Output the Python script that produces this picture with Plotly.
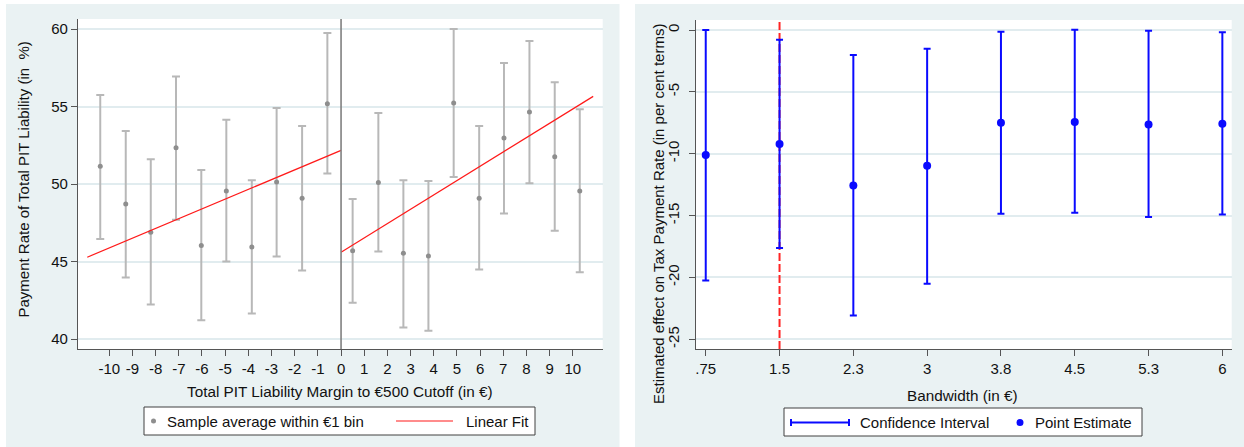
import plotly.graph_objects as go

W, H = 1244, 447

# ---------------- Left panel data ----------------
bin_x_left = [-10.39, -9.29, -8.21, -7.12, -6.03, -4.95, -3.85, -2.78, -1.68, -0.59]
mean_left = [51.15, 48.72, 46.90, 52.35, 46.04, 49.56, 45.95, 50.14, 49.09, 55.19]
hi_left = [55.75, 53.43, 51.60, 56.95, 50.91, 54.16, 50.25, 54.91, 53.75, 59.74]
lo_left = [46.47, 43.98, 42.24, 47.71, 41.23, 45.01, 41.66, 45.33, 44.43, 50.68]

bin_x_right = [0.50, 1.61, 2.69, 3.77, 4.86, 5.96, 7.03, 8.13, 9.22, 10.30]
mean_right = [45.70, 50.10, 45.55, 45.37, 55.23, 49.09, 52.98, 54.65, 51.77, 49.56]
hi_right = [49.05, 54.59, 50.25, 50.21, 60.00, 53.75, 57.81, 59.23, 56.57, 54.83]
lo_right = [42.35, 45.65, 40.75, 40.54, 50.46, 44.49, 48.10, 50.06, 47.00, 44.32]

fit_x_left = [-10.95, 0.0]
fit_y_left = [45.29, 52.18]
fit_x_right = [0.0, 10.88]
fit_y_right = [45.61, 55.66]

cutoff_left = 0.0
x_ticks_left = list(range(-10, 11))
x_tick_labels_left = [str(v) for v in x_ticks_left]
y_ticks_left = [40, 45, 50, 55, 60]
y_tick_labels_left = ["40", "45", "50", "55", "60"]

# ---------------- Right panel data ----------------
bandwidth = [0.75, 1.5, 2.25, 3.0, 3.75, 4.5, 5.25, 6.0]
bandwidth_labels = [".75", "1.5", "2.3", "3", "3.8", "4.5", "5.3", "6"]
estimate = [-10.11, -9.22, -12.56, -10.97, -7.49, -7.44, -7.63, -7.57]
ci_hi = [0.00, -0.78, -2.02, -1.51, -0.13, 0.03, -0.05, -0.19]
ci_lo = [-20.24, -17.62, -23.07, -20.51, -14.85, -14.77, -15.12, -14.90]
optimal_bw = 1.5
y_ticks_right = [0, -5, -10, -15, -20, -25]
y_tick_labels_right = ["0", "-5", "-10", "-15", "-20", "-25"]
y_range_right = [-25.78, 0.81]

# ---------------- styling ----------------
FONT = "Arial, 'Liberation Sans', sans-serif"
BG = "#EAF2F3"
GRID = "#E1ECEF"
AXIS = "#555555"
GRAY_BAR = "#B8B8B8"
GRAY_DOT = "#8E8E8E"
BLUE = "#0A0AFF"
RED = "#FF1A1A"


def px(x):
    return x / W


def py(y):
    return 1 - y / H


fig = go.Figure()

# Left panel traces
for xs, m, hi, lo in [(bin_x_left, mean_left, hi_left, lo_left),
                      (bin_x_right, mean_right, hi_right, lo_right)]:
    fig.add_trace(go.Scatter(
        x=xs, y=m, mode="markers", xaxis="x", yaxis="y",
        marker=dict(color=GRAY_DOT, size=5),
        error_y=dict(type="data", symmetric=False,
                     array=[h - v for h, v in zip(hi, m)],
                     arrayminus=[v - l for v, l in zip(m, lo)],
                     color=GRAY_BAR, thickness=2, width=4),
        showlegend=False, hoverinfo="skip"))

for fx, fy in [(fit_x_left, fit_y_left), (fit_x_right, fit_y_right)]:
    fig.add_trace(go.Scatter(x=fx, y=fy, mode="lines", xaxis="x", yaxis="y",
                             line=dict(color=RED, width=1.2),
                             showlegend=False, hoverinfo="skip"))

# Right panel: optimal bandwidth reference line (drawn first, under the estimates)
fig.add_trace(go.Scatter(
    x=[optimal_bw, optimal_bw], y=y_range_right, mode="lines", xaxis="x2", yaxis="y2",
    line=dict(color="#FF2424", width=2, dash="8px,3px"),
    showlegend=False, hoverinfo="skip", cliponaxis=True))

fig.add_trace(go.Scatter(
    x=bandwidth, y=estimate, mode="markers", xaxis="x2", yaxis="y2",
    marker=dict(color=BLUE, size=8),
    error_y=dict(type="data", symmetric=False,
                 array=[h - v for h, v in zip(ci_hi, estimate)],
                 arrayminus=[v - l for v, l in zip(estimate, ci_lo)],
                 color=BLUE, thickness=2, width=3.5),
    showlegend=False, hoverinfo="skip"))

shapes = [
    # panel backgrounds
    dict(type="rect", xref="paper", yref="paper", x0=px(6), x1=px(619.5), y0=py(447), y1=py(4),
         fillcolor=BG, line=dict(width=0), layer="below"),
    dict(type="rect", xref="paper", yref="paper", x0=px(635), x1=px(1244), y0=py(447), y1=py(4),
         fillcolor=BG, line=dict(width=0), layer="below"),
    # plot area backgrounds
    dict(type="rect", xref="x domain", yref="y domain", x0=0, x1=1, y0=0, y1=1,
         fillcolor="white", line=dict(width=0), layer="below"),
    dict(type="rect", xref="x2 domain", yref="y2 domain", x0=0, x1=1, y0=0, y1=1,
         fillcolor="white", line=dict(width=0), layer="below"),
    # cutoff line left
    dict(type="line", xref="x", yref="y domain", x0=cutoff_left, x1=cutoff_left, y0=0, y1=1,
         line=dict(color="#808080", width=1.6), layer="above"),
]

annotations = []


def txt(x, y, text, size=15, angle=0, xanchor="center", yanchor="middle"):
    annotations.append(dict(xref="paper", yref="paper", x=px(x), y=py(y), text=text,
                            showarrow=False, textangle=angle, xanchor=xanchor, yanchor=yanchor,
                            font=dict(family=FONT, size=size, color="#111111")))


# axis titles
txt(22.5, 180, "Payment Rate of Total PIT Liability (in  %)", angle=-90)
txt(340, 391, "Total PIT Liability Margin to €500 Cutoff (in €)", size=15.3)
txt(658, 214, "Estimated effect on Tax Payment Rate (in per cent terms)", angle=-90)
txt(962, 395, "Bandwidth (in €)", size=15.3)

# Left legend
shapes.append(dict(type="rect", xref="paper", yref="paper", x0=px(144), x1=px(535), y0=py(435), y1=py(407),
                   fillcolor="white", line=dict(color="#404040", width=1)))
shapes.append(dict(type="circle", xref="paper", yref="paper", x0=px(151), x1=px(156), y0=py(423.5), y1=py(418.5),
                   fillcolor=GRAY_DOT, line=dict(width=0)))
txt(165, 421.5, "Sample average within €1 bin", xanchor="left")
shapes.append(dict(type="line", xref="paper", yref="paper", x0=px(396), x1=px(453), y0=py(421), y1=py(421),
                   line=dict(color=RED, width=1.2)))
txt(464, 421.5, "Linear Fit", xanchor="left")

# Right legend
shapes.append(dict(type="rect", xref="paper", yref="paper", x0=px(784), x1=px(1142), y0=py(436), y1=py(408),
                   fillcolor="white", line=dict(color="#404040", width=1)))
shapes.append(dict(type="line", xref="paper", yref="paper", x0=px(791), x1=px(849), y0=py(422.5), y1=py(422.5),
                   line=dict(color=BLUE, width=2)))
for cx in (791, 849):
    shapes.append(dict(type="line", xref="paper", yref="paper", x0=px(cx), x1=px(cx), y0=py(419), y1=py(426),
                       line=dict(color=BLUE, width=2)))
txt(858, 422.5, "Confidence Interval", xanchor="left")
shapes.append(dict(type="circle", xref="paper", yref="paper", x0=px(1016.5), x1=px(1023.5), y0=py(426), y1=py(419),
                   fillcolor=BLUE, line=dict(width=0)))
txt(1033, 422.5, "Point Estimate", xanchor="left")

axis_common = dict(showline=True, linecolor=AXIS, linewidth=1.2, ticks="outside", ticklen=6,
                   tickcolor=AXIS, tickwidth=1.2, zeroline=False,
                   tickfont=dict(family=FONT, size=15, color="#111111"))

fig.update_layout(
    width=W, height=H, margin=dict(l=0, r=0, t=0, b=0),
    paper_bgcolor="white", plot_bgcolor="rgba(0,0,0,0)",
    showlegend=False,
    xaxis=dict(domain=[px(78), px(602.7)], anchor="y", range=[-11.35, 11.29],
               tickmode="array", tickvals=x_ticks_left, ticktext=x_tick_labels_left,
               tickangle=0, showgrid=False, **axis_common),
    yaxis=dict(domain=[py(349), py(19)], anchor="x", range=[39.37, 60.65],
               tickmode="array", tickvals=y_ticks_left, ticktext=y_tick_labels_left,
               showgrid=True, gridcolor=GRID, gridwidth=1.5, **axis_common),
    xaxis2=dict(domain=[px(695.7), px(1231.7)], anchor="y2", range=[0.648, 6.095],
                tickmode="array", tickvals=bandwidth, ticktext=bandwidth_labels, tickangle=0,
                showgrid=False, **axis_common),
    yaxis2=dict(domain=[py(349), py(20)], anchor="x2", range=y_range_right,
                tickmode="array", tickvals=y_ticks_right, ticktext=y_tick_labels_right,
                tickangle=-90, ticklabelstandoff=4, showgrid=True, gridcolor=GRID, gridwidth=1.5,
                **axis_common),
    shapes=shapes,
    annotations=annotations,
)

fig.write_html("out.html")
